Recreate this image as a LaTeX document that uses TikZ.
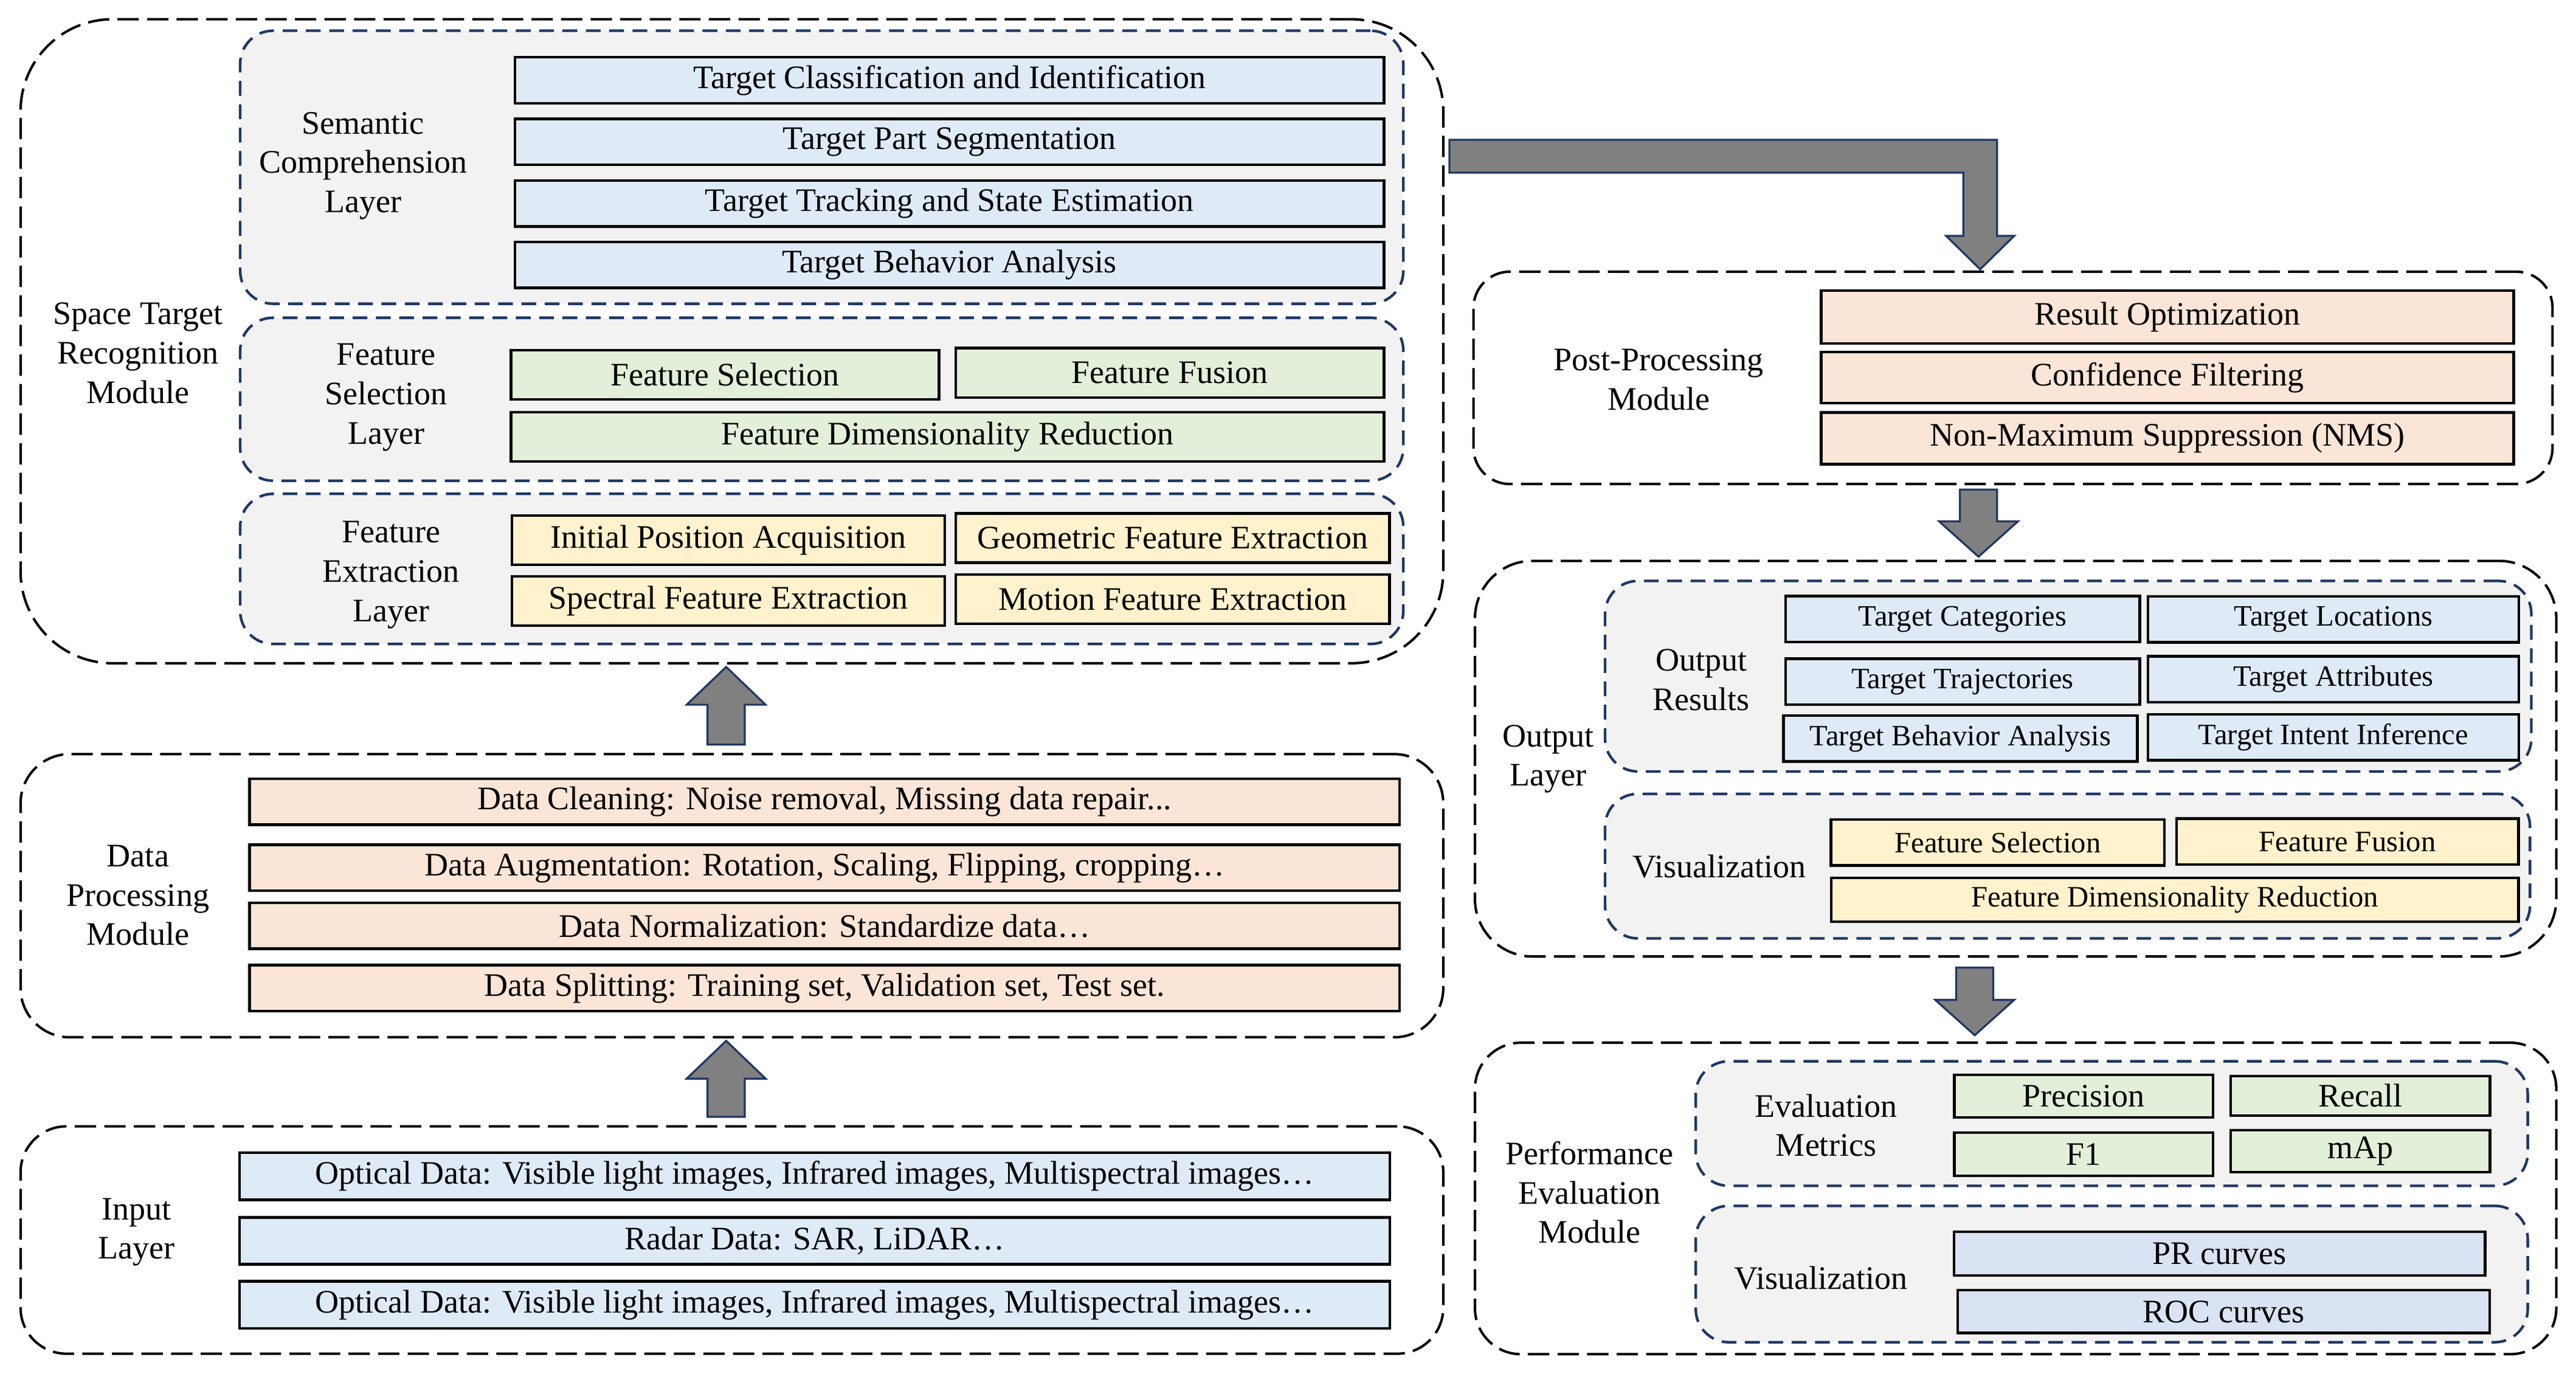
\documentclass[tikz,border=0pt]{standalone}
\usepackage{fontspec}
\setmainfont{Liberation Serif}
\usetikzlibrary{calc}

\definecolor{boxblue}{HTML}{DEEBF7}
\definecolor{boxgreen}{HTML}{E2F0D9}
\definecolor{boxyellow}{HTML}{FFF2CC}
\definecolor{boxpeach}{HTML}{FBE5D6}
\definecolor{boxlilac}{HTML}{DAE3F3}
\definecolor{layergray}{HTML}{F2F2F2}
\definecolor{navy}{HTML}{1F3864}
\definecolor{arrowgray}{HTML}{808080}

\newcommand{\fatarrow}[3]{%
  \filldraw[bigarrow] ($(#1)+(-11.3,0)$) -- ($(#2)+(-11.3,#3)$) -- ($(#2)+(-24,#3)$) -- (#2)
    -- ($(#2)+(24,#3)$) -- ($(#2)+(11.3,#3)$) -- ($(#1)+(11.3,0)$) -- cycle;}

\begin{document}
\begin{tikzpicture}
  [x=0.5pt,y=-0.5pt,
   module/.style={draw,line width=0.75pt,dash pattern=on 6.5pt off 2.5pt,rounded corners=#1,inner sep=0},
   module/.default=14pt,
   layer/.style={draw=navy,fill=layergray,line width=0.8pt,dash pattern=on 4.5pt off 2.6pt,rounded corners=10pt,inner sep=0},
   cbox/.style={draw,line width=0.8pt,inner sep=0,minimum height=14pt},
   lbl/.style={align=center,inner sep=0},
   bigarrow/.style={draw=navy,fill=arrowgray,line width=0.6pt,line join=miter}]

  \useasboundingbox (0,0) rectangle (1568,836);

  \node[module=28pt,minimum width=433pt,minimum height=196pt] (stm) at (445.5,207.7) {};
  \node[layer,minimum width=354pt,minimum height=83.1pt] (scl) at (500.2,101.8) {};
  \node[layer,minimum width=354pt,minimum height=49.6pt] (fsl) at (500.2,243) {};
  \node[layer,minimum width=354pt,minimum height=45.7pt] (fel) at (500.2,346.3) {};
  \node[lbl] (stml) at (84,215) {Space Target\\Recognition\\Module};
  \node[lbl] (scll) at (221,101) {Semantic\\Comprehension\\Layer};
  \node[lbl] (fsll) at (235,242) {Feature\\Selection\\Layer};
  \node[lbl] (fell) at (238,350) {Feature\\Extraction\\Layer};

  \node[cbox,fill=boxblue,minimum width=264.5pt] (sc1) at (577.9,48.8) {Target Classification and Identification};
  \node[cbox,fill=boxblue,minimum width=264.5pt] (sc2) at (577.9,86.3) {Target Part Segmentation};
  \node[cbox,fill=boxblue,minimum width=264.5pt] (sc3) at (577.9,123.8) {Target Tracking and State Estimation};
  \node[cbox,fill=boxblue,minimum width=264.5pt] (sc4) at (577.9,161.2) {Target Behavior Analysis};

  \node[cbox,fill=boxgreen,minimum width=130.3pt,minimum height=15pt] (fs1) at (441.3,228.1) {Feature Selection};
  \node[cbox,fill=boxgreen,minimum width=130.3pt,minimum height=15pt] (fs2) at (712.1,226.9) {Feature Fusion};
  \node[cbox,fill=boxgreen,minimum width=265.7pt,minimum height=15pt] (fs3) at (576.7,266) {Feature Dimensionality Reduction};

  \node[cbox,fill=boxyellow,minimum width=131.7pt,minimum height=15pt] (fe1) at (443.3,328.7) {Initial Position Acquisition};
  \node[cbox,fill=boxyellow,minimum width=132pt,minimum height=15pt] (fe2) at (713.8,327.5) {Geometric Feature Extraction};
  \node[cbox,fill=boxyellow,minimum width=131.7pt,minimum height=15pt] (fe3) at (443.3,365.8) {Spectral Feature Extraction};
  \node[cbox,fill=boxyellow,minimum width=132pt,minimum height=15pt] (fe4) at (713.8,364.8) {Motion Feature Extraction};

  \node[module=15pt,minimum width=433pt,minimum height=86.2pt] (dpm) at (445.5,545.2) {};
  \node[lbl] (dpml) at (84,545) {Data\\Processing\\Module};
  \node[cbox,fill=boxpeach,minimum width=350pt] (dp1) at (501.9,488) {Data Cleaning: Noise removal, Missing data repair...};
  \node[cbox,fill=boxpeach,minimum width=350pt] (dp2) at (501.9,528.2) {Data Augmentation: Rotation, Scaling, Flipping, cropping…};
  \node[cbox,fill=boxpeach,minimum width=350pt] (dp3) at (501.9,563.5) {Data Normalization: Standardize data…};
  \node[cbox,fill=boxpeach,minimum width=350pt] (dp4) at (501.9,601.5) {Data Splitting: Training set, Validation set, Test set.};

  \node[module=14pt,minimum width=433pt,minimum height=69.2pt] (inp) at (445.5,754.8) {};
  \node[lbl] (inpl) at (83,750) {Input\\Layer};
  \node[cbox,fill=boxblue,minimum width=350pt,minimum height=14.3pt] (in1) at (495.9,716) {Optical Data: Visible light images, Infrared images, Multispectral images…};
  \node[cbox,fill=boxblue,minimum width=350pt,minimum height=14.3pt] (in2) at (495.9,755.3) {Radar Data: SAR, LiDAR…};
  \node[cbox,fill=boxblue,minimum width=350pt,minimum height=14.3pt] (in3) at (495.9,794.2) {Optical Data: Visible light images, Infrared images, Multispectral images…};

  \node[module=11pt,minimum width=328.4pt,minimum height=64.6pt] (post) at (1225.3,230) {};
  \node[lbl] (postl) at (1009.6,231) {Post-Processing\\Module};
  \node[cbox,fill=boxpeach,minimum width=210.8pt,minimum height=16pt] (pp1) at (1319.3,193) {Result Optimization};
  \node[cbox,fill=boxpeach,minimum width=210.8pt,minimum height=15.6pt] (pp2) at (1319.3,229.8) {Confidence Filtering};
  \node[cbox,fill=boxpeach,minimum width=210.8pt,minimum height=15.7pt] (pp3) at (1319.3,266.8) {Non-Maximum Suppression (NMS)};

  \node[module=17.5pt,minimum width=329.1pt,minimum height=120.4pt] (out) at (1226.9,461.8) {};
  \node[layer,minimum width=281.9pt,minimum height=58pt] (ores) at (1258.9,411.6) {};
  \node[layer,minimum width=281.5pt,minimum height=44pt] (ovis) at (1258.5,527.2) {};
  \node[lbl] (outl) at (942.4,462) {Output\\Layer};
  \node[lbl] (oresl) at (1035.6,414) {Output\\Results};
  \node[lbl] (ovisl) at (1046.5,527.4) {Visualization};

  \node[cbox,fill=boxblue,font=\small,minimum width=107.8pt] (or1) at (1194.6,376.9) {Target Categories};
  \node[cbox,fill=boxblue,font=\small,minimum width=112.8pt] (or2) at (1420.3,377) {Target Locations};
  \node[cbox,fill=boxblue,font=\small,minimum width=107.8pt] (or3) at (1194.6,415) {Target Trajectories};
  \node[cbox,fill=boxblue,font=\small,minimum width=112.8pt] (or4) at (1420.3,413.5) {Target Attributes};
  \node[cbox,fill=boxblue,font=\small,minimum width=107.7pt] (or5) at (1193.3,449.5) {Target Behavior Analysis};
  \node[cbox,fill=boxblue,font=\small,minimum width=112.8pt] (or6) at (1420.3,448.8) {Target Intent Inference};

  \node[cbox,fill=boxyellow,font=\small,minimum width=101.5pt] (ov1) at (1216,512.8) {Feature Selection};
  \node[cbox,fill=boxyellow,font=\small,minimum width=104.1pt] (ov2) at (1428.9,512.3) {Feature Fusion};
  \node[cbox,fill=boxyellow,font=\small,minimum width=209.2pt,minimum height=13.4pt] (ov3) at (1323.8,547.7) {Feature Dimensionality Reduction};

  \node[module=14pt,minimum width=329.1pt,minimum height=94.8pt] (perf) at (1226.9,729.5) {};
  \node[layer,minimum width=253.2pt,minimum height=37.9pt] (em) at (1285.4,683.9) {};
  \node[layer,minimum width=253.2pt,minimum height=41.5pt] (pvis) at (1285.4,775.5) {};
  \node[lbl] (perfl) at (967.5,725.8) {Performance\\Evaluation\\Module};
  \node[lbl] (eml) at (1111.5,685) {Evaluation\\Metrics};
  \node[lbl] (pvisl) at (1108.5,777.8) {Visualization};

  \node[cbox,fill=boxgreen,minimum width=78.7pt,minimum height=13pt] (em1) at (1268.3,667.2) {Precision};
  \node[cbox,fill=boxgreen,minimum width=78.9pt,minimum height=12.1pt] (em2) at (1436.7,667) {Recall};
  \node[cbox,fill=boxgreen,minimum width=78.7pt,minimum height=13.1pt] (em3) at (1268.3,702.6) {F1};
  \node[cbox,fill=boxgreen,minimum width=78.9pt,minimum height=12.8pt] (em4) at (1436.7,700.8) {mAp};
  \node[cbox,fill=boxlilac,minimum width=161.6pt,minimum height=13.3pt] (pv1) at (1351,763.1) {PR curves};
  \node[cbox,fill=boxlilac,minimum width=161.9pt,minimum height=13pt] (pv2) at (1353.6,798.4) {ROC curves};

  \coordinate (a1s) at ($(inp.north)+(-3.5,-5)$);
  \coordinate (a1e) at ($(dpm.south)+(-3.5,1.4)$);
  \coordinate (a2s) at ($(dpm.north)+(-3.5,-5)$);
  \coordinate (a2e) at ($(stm.south)+(-3.5,1.5)$);
  \coordinate (a4s) at ($(post.south)+(-21,2.6)$);
  \coordinate (a4e) at ($(out.north)+(-22.6,-1.8)$);
  \coordinate (a5s) at ($(out.south)+(-24.9,6)$);
  \coordinate (a5e) at ($(perf.north)+(-24.9,-3.8)$);
  \coordinate (bt) at ($(stm.east)+(3,-112.6)$);
  \coordinate (bp) at ($(post.north)+(-20,-0.7)$);

  \foreach \s/\e/\h in {a1s/a1e/23,a2s/a2e/23,a4s/a4e/-21.5,a5s/a5e/-21.5}
    \fatarrow{\s}{\e}{\h};
  \filldraw[bigarrow] ($(bt)+(0,-10)$) -- ($(bp |- bt)+(10.25,-10)$) -- ($(bp)+(10.25,-20.4)$)
    -- ($(bp)+(20.75,-20.4)$) -- (bp) -- ($(bp)+(-20.75,-20.4)$) -- ($(bp)+(-10.25,-20.4)$)
    -- ($(bp |- bt)+(-10.25,10)$) -- ($(bt)+(0,10)$) -- cycle;
\end{tikzpicture}
\end{document}
